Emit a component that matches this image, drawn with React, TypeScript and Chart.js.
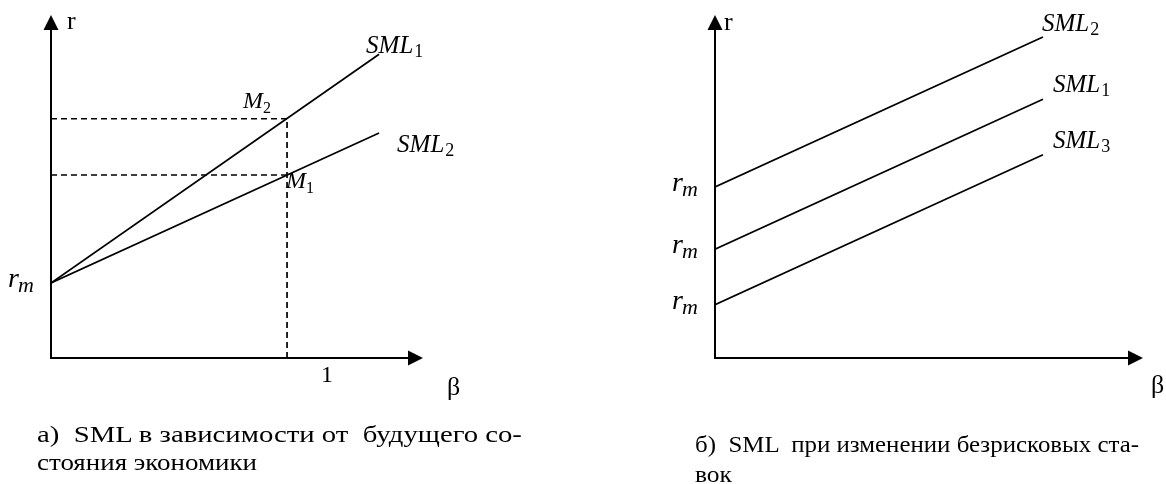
import React, { useEffect, useRef } from "react";
import { Chart, registerables } from "chart.js";

Chart.register(...registerables);

// ---------- data (β on x, r on y) ----------
// Panel a) SML depending on the future state of the economy
const LEFT_BETA = [0, 1.39];
const LEFT_SML1 = [1, 4.05];
const LEFT_SML2 = [1, 3.0];
const LEFT_RM = 1;
const MARKET_BETA = 1;
const M2_R = 3.19;
const M1_R = 2.44;
const LEFT_X_MAX = 1.576;

// Panel б) SML when risk-free rates change
const RIGHT_BETA = [0, 1.39];
const RIGHT_SML2 = [2.28, 4.28];
const RIGHT_SML1 = [1.45, 3.45];
const RIGHT_SML3 = [0.71, 2.71];
const RIGHT_X_MAX = 1.814;

const Y_MAX = 4.573;

const CAPTIONS = [
  { text: "а)  SML в зависимости от  будущего со-", left: 37, baseline: 442, width: 486 },
  { text: "стояния экономики", left: 37, baseline: 470, width: 220 },
  { text: "б)  SML  при изменении безрисковых ста-", left: 695, baseline: 452, width: 445 },
  { text: "вок", left: 695, baseline: 482, width: 37 },
];

const SERIF = '"Liberation Serif", "Times New Roman", serif';
const CAPTION_PX = 23;

// ---------- drawing helpers ----------
type Area = { left: number; right: number; top: number; bottom: number };

function drawAxes(ctx: CanvasRenderingContext2D, a: Area) {
  ctx.save();
  ctx.strokeStyle = "#000";
  ctx.fillStyle = "#000";
  ctx.lineWidth = 2;
  ctx.beginPath();
  ctx.moveTo(a.left, a.top + 14);
  ctx.lineTo(a.left, a.bottom);
  ctx.lineTo(a.right - 14, a.bottom);
  ctx.stroke();
  ctx.beginPath();
  ctx.moveTo(a.left, a.top);
  ctx.lineTo(a.left - 7.5, a.top + 15);
  ctx.lineTo(a.left + 7.5, a.top + 15);
  ctx.closePath();
  ctx.fill();
  ctx.beginPath();
  ctx.moveTo(a.right, a.bottom);
  ctx.lineTo(a.right - 15, a.bottom - 7.5);
  ctx.lineTo(a.right - 15, a.bottom + 7.5);
  ctx.closePath();
  ctx.fill();
  ctx.restore();
}

function text(ctx: CanvasRenderingContext2D, s: string, x: number, y: number, font: string) {
  ctx.font = font;
  ctx.fillText(s, x, y);
  return ctx.measureText(s).width;
}

function subLabel(
  ctx: CanvasRenderingContext2D,
  main: string,
  sub: string,
  x: number,
  y: number,
  mainFont: string,
  subFont: string,
  subDx: number,
  subDy: number
) {
  const w = text(ctx, main, x, y, mainFont);
  text(ctx, sub, x + w + subDx, y + subDy, subFont);
}

const SML_FONT = `italic 25px ${SERIF}`;
const SML_SUB = `18px ${SERIF}`;
const M_FONT = `italic 24px ${SERIF}`;
const M_SUB = `16px ${SERIF}`;
const R_FONT = `italic 28px ${SERIF}`;
const RM_SUB = `italic 22px ${SERIF}`;
const AXIS_FONT = `26px ${SERIF}`;
const ONE_FONT = `24px ${SERIF}`;

function rmLabel(ctx: CanvasRenderingContext2D, axisX: number, y: number) {
  subLabel(ctx, "r", "m", axisX - 43, y + 4, R_FONT, RM_SUB, -1, 5);
}

function line(data: { x: number; y: number }[], dashed = false) {
  return {
    data,
    showLine: true,
    borderColor: "#000",
    backgroundColor: "#000",
    borderWidth: dashed ? 1.7 : 1.7,
    borderDash: dashed ? [6, 4] : [],
    pointRadius: 0,
    tension: 0,
  };
}

const pts = (xs: number[], ys: number[]) => xs.map((x, i) => ({ x, y: ys[i] }));

function baseOptions(xMax: number, padding: Area, plugin: any) {
  return {
    type: "scatter" as const,
    options: {
      animation: false as const,
      responsive: false,
      devicePixelRatio: 1,
      events: [],
      layout: { padding },
      plugins: { legend: { display: false }, tooltip: { enabled: false } },
      scales: {
        x: { type: "linear" as const, min: 0, max: xMax, display: false },
        y: { type: "linear" as const, min: 0, max: Y_MAX, display: false },
      },
    },
    plugins: [plugin],
  };
}

function LeftPanel() {
  const ref = useRef<HTMLCanvasElement>(null);
  useEffect(() => {
    const plugin = {
      id: "leftDecor",
      afterDatasetsDraw(chart: any) {
        const { ctx, chartArea: a, scales } = chart;
        const xs = scales.x, ys = scales.y;
        drawAxes(ctx, a);
        ctx.save();
        ctx.fillStyle = "#000";
        ctx.textBaseline = "alphabetic";
        text(ctx, "r", a.left + 16, a.top + 14, AXIS_FONT);
        text(ctx, "β", a.right + 24, a.bottom + 37, AXIS_FONT);
        text(ctx, "1", xs.getPixelForValue(MARKET_BETA) + 34, a.bottom + 24, ONE_FONT);
        rmLabel(ctx, a.left, ys.getPixelForValue(LEFT_RM));
        const ex = xs.getPixelForValue(LEFT_BETA[1]);
        subLabel(ctx, "SML", "1", ex - 13, ys.getPixelForValue(LEFT_SML1[1]) - 1, SML_FONT, SML_SUB, 1, 4);
        subLabel(ctx, "SML", "2", ex + 18, ys.getPixelForValue(LEFT_SML2[1]) + 19, SML_FONT, SML_SUB, 1, 4);
        const mx = xs.getPixelForValue(MARKET_BETA);
        subLabel(ctx, "M", "2", mx - 44, ys.getPixelForValue(M2_R) - 11, M_FONT, M_SUB, 0, 5);
        subLabel(ctx, "M", "1", mx - 1, ys.getPixelForValue(M1_R) + 13, M_FONT, M_SUB, 0, 5);
        ctx.restore();
      },
    };
    const cfg: any = baseOptions(LEFT_X_MAX, { left: 51, right: 160, top: 15, bottom: 126 }, plugin);
    cfg.data = {
      datasets: [
        line(pts([0, MARKET_BETA], [M2_R, M2_R]), true),
        line(pts([MARKET_BETA, MARKET_BETA], [0, M2_R]), true),
        line(pts([0, MARKET_BETA], [M1_R, M1_R]), true),
        line(pts(LEFT_BETA, LEFT_SML1)),
        line(pts(LEFT_BETA, LEFT_SML2)),
      ],
    };
    const chart = new Chart(ref.current!, cfg);
    return () => chart.destroy();
  }, []);
  return <canvas ref={ref} width={583} height={484} style={{ position: "absolute", left: 0, top: 0 }} />;
}

function RightPanel() {
  const ref = useRef<HTMLCanvasElement>(null);
  useEffect(() => {
    const plugin = {
      id: "rightDecor",
      afterDatasetsDraw(chart: any) {
        const { ctx, chartArea: a, scales } = chart;
        const xs = scales.x, ys = scales.y;
        drawAxes(ctx, a);
        ctx.save();
        ctx.fillStyle = "#000";
        ctx.textBaseline = "alphabetic";
        text(ctx, "r", a.left + 9, a.top + 15, AXIS_FONT);
        text(ctx, "β", a.right + 8, a.bottom + 35, AXIS_FONT);
        [RIGHT_SML2, RIGHT_SML1, RIGHT_SML3].forEach((s) => rmLabel(ctx, a.left, ys.getPixelForValue(s[0])));
        const ex = xs.getPixelForValue(RIGHT_BETA[1]);
        subLabel(ctx, "SML", "2", ex - 1, ys.getPixelForValue(RIGHT_SML2[1]) - 6, SML_FONT, SML_SUB, 1, 4);
        subLabel(ctx, "SML", "1", ex + 10, ys.getPixelForValue(RIGHT_SML1[1]) - 7, SML_FONT, SML_SUB, 1, 4);
        subLabel(ctx, "SML", "3", ex + 10, ys.getPixelForValue(RIGHT_SML3[1]) - 7, SML_FONT, SML_SUB, 1, 4);
        ctx.restore();
      },
    };
    const cfg: any = baseOptions(RIGHT_X_MAX, { left: 132, right: 23, top: 15, bottom: 126 }, plugin);
    cfg.data = {
      datasets: [
        line(pts(RIGHT_BETA, RIGHT_SML2)),
        line(pts(RIGHT_BETA, RIGHT_SML1)),
        line(pts(RIGHT_BETA, RIGHT_SML3)),
      ],
    };
    const chart = new Chart(ref.current!, cfg);
    return () => chart.destroy();
  }, []);
  return <canvas ref={ref} width={583} height={484} style={{ position: "absolute", left: 583, top: 0 }} />;
}

function measure(s: string) {
  const c = document.createElement("canvas").getContext("2d")!;
  c.font = `${CAPTION_PX}px ${SERIF}`;
  return c.measureText(s).width;
}

export default function App() {
  return (
    <div style={{ position: "absolute", left: 0, top: 0, width: 1166, height: 484, background: "#fff", overflow: "hidden" }}>
      <LeftPanel />
      <RightPanel />
      {CAPTIONS.map((c, i) => {
        const sx = c.width / measure(c.text);
        return (
          <div
            key={i}
            style={{
              position: "absolute",
              left: c.left,
              top: c.baseline - CAPTION_PX * 0.8375,
              font: `${CAPTION_PX}px ${SERIF}`,
              lineHeight: `${CAPTION_PX}px`,
              whiteSpace: "pre",
              color: "#000",
              transform: `scaleX(${sx})`,
              transformOrigin: "left top",
            }}
          >
            {c.text}
          </div>
        );
      })}
    </div>
  );
}
